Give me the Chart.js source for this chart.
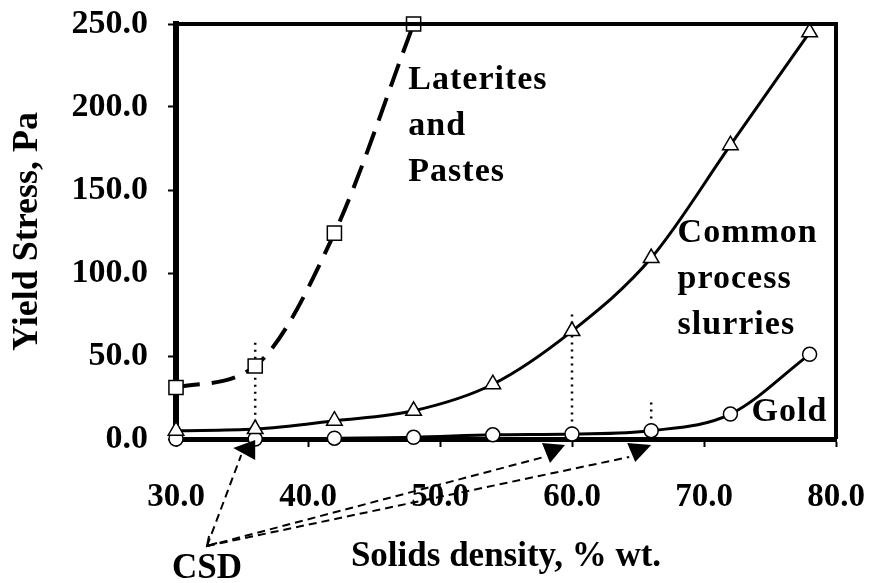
<!DOCTYPE html>
<html>
<head>
<meta charset="utf-8">
<script src="https://cdn.jsdelivr.net/npm/chart.js@4/dist/chart.umd.min.js"></script>
<style>
  html, body { margin: 0; padding: 0; background: #fff; }
  #wrap { width: 881px; height: 583px; }
</style>
</head>
<body>
<div id="wrap"><canvas id="chart" width="881" height="583"></canvas></div>
<script>
// Chart values
const solidsX = [30, 36, 42, 48, 54, 60, 66, 72, 78];
const lateritesX = [30, 36, 42, 48];
const lateritesY = [31, 44, 124, 250];
const commonY = [5, 6, 11, 17, 33, 65, 109, 177, 245];
const goldY = [0, 0, 0.5, 1, 2.5, 3, 5, 15, 51];

const xTickValues = [30, 40, 50, 60, 70, 80];
const xTickLabels = ['30.0', '40.0', '50.0', '60.0', '70.0', '80.0'];
const yTickValues = [0, 50, 100, 150, 200, 250];
const yTickLabels = ['0.0', '50.0', '100.0', '150.0', '200.0', '250.0'];

// CSD drop lines: x position and height they reach
const csdX = [36, 60, 66];
const csdTop = [58, 75, 22];

// Text labels inside the plot
const seriesNotes = [
  { lines: ['Laterites', 'and', 'Pastes'], x: 47.6, y: 216 },
  { lines: ['Common', 'process', 'slurries'], x: 68.0, y: 124 },
  { lines: ['Gold'], x: 73.6, y: 16 }
];

const FONT = '"Liberation Serif", "Times New Roman", serif';

function toPoints(xs, ys) {
  return xs.map((x, i) => ({ x: x, y: ys[i] }));
}

// Frame on top/right, dotted drops, arrows and notes
const extrasPlugin = {
  id: 'extras',
  beforeDatasetsDraw(chart) {
    const { ctx, scales: { x, y } } = chart;
    ctx.save();
    ctx.strokeStyle = '#000';
    ctx.lineWidth = 2.5;
    ctx.setLineDash([2, 5]);
    csdX.forEach((v, i) => {
      const px = x.getPixelForValue(v);
      ctx.beginPath();
      ctx.moveTo(px, y.getPixelForValue(csdTop[i]));
      ctx.lineTo(px, y.getPixelForValue(0));
      ctx.stroke();
    });
    ctx.restore();
  },
  afterDatasetsDraw(chart) {
    const { ctx, chartArea: a, scales: { x, y } } = chart;
    ctx.save();
    // top and right frame
    ctx.strokeStyle = '#000';
    ctx.lineWidth = 4;
    ctx.beginPath();
    ctx.moveTo(a.left, a.top);
    ctx.lineTo(a.right, a.top);
    ctx.lineTo(a.right, a.bottom);
    ctx.stroke();

    // notes
    ctx.fillStyle = '#000';
    ctx.font = 'bold 34px ' + FONT;
    ctx.letterSpacing = '1px';
    ctx.textAlign = 'left';
    ctx.textBaseline = 'middle';
    seriesNotes.forEach(n => {
      const px = x.getPixelForValue(n.x);
      const py = y.getPixelForValue(n.y);
      n.lines.forEach((t, i) => ctx.fillText(t, px, py + i * 46));
    });

    // CSD label and arrows
    const sx = x.getPixelForValue(32.35);
    const sy = a.bottom + 107;
    ctx.letterSpacing = '0px';
    ctx.font = 'bold 35px ' + FONT;
    ctx.textAlign = 'center';
    ctx.fillText('CSD', sx, a.bottom + 130);

    const zero = y.getPixelForValue(0);
    const heads = [
      { v: 36, end: [-14, 16], tri: [[-22, 9], [0, 1], [0, 21]] },
      { v: 60, end: [-28, 18], tri: [[-30, 4], [-7, 6], [-22, 24]] },
      { v: 66, end: [-22, 18], tri: [[-24, 4], [0, 6], [-16, 23]] }
    ];
    ctx.lineWidth = 2;
    ctx.setLineDash([8, 5]);
    heads.forEach(h => {
      const px = x.getPixelForValue(h.v);
      ctx.beginPath();
      ctx.moveTo(sx, sy);
      ctx.lineTo(px + h.end[0], zero + h.end[1]);
      ctx.stroke();
    });
    ctx.setLineDash([]);
    heads.forEach(h => {
      const px = x.getPixelForValue(h.v);
      ctx.beginPath();
      ctx.moveTo(px + h.tri[0][0], zero + h.tri[0][1]);
      ctx.lineTo(px + h.tri[1][0], zero + h.tri[1][1]);
      ctx.lineTo(px + h.tri[2][0], zero + h.tri[2][1]);
      ctx.closePath();
      ctx.fill();
    });
    // open head at the CSD end
    ctx.lineWidth = 2;
    ctx.beginPath();
    ctx.moveTo(sx + 2, sy - 10);
    ctx.lineTo(sx, sy);
    ctx.lineTo(sx + 10, sy - 3);
    ctx.stroke();
    ctx.restore();
  }
};

const ctx = document.getElementById('chart');
new Chart(ctx, {
  type: 'line',
  data: {
    datasets: [
      {
        label: 'Laterites and Pastes',
        data: toPoints(lateritesX, lateritesY),
        borderColor: '#000',
        borderWidth: 4,
        borderDash: [24, 12],
        pointStyle: 'rect',
        pointRadius: 10,
        pointBorderWidth: 1.5,
        pointBackgroundColor: '#fff',
        pointBorderColor: '#000',
        cubicInterpolationMode: 'monotone'
      },
      {
        label: 'Common process slurries',
        data: toPoints(solidsX, commonY),
        borderColor: '#000',
        borderWidth: 3,
        pointStyle: 'triangle',
        pointRadius: 9,
        pointBorderWidth: 1.5,
        pointBackgroundColor: '#fff',
        pointBorderColor: '#000',
        cubicInterpolationMode: 'monotone'
      },
      {
        label: 'Gold',
        data: toPoints(solidsX, goldY),
        borderColor: '#000',
        borderWidth: 3,
        pointStyle: 'circle',
        pointRadius: 7,
        pointBorderWidth: 1.5,
        pointBackgroundColor: '#fff',
        pointBorderColor: '#000',
        cubicInterpolationMode: 'monotone'
      }
    ]
  },
  options: {
    responsive: false,
    animation: false,
    clip: false,
    layout: { autoPadding: false, padding: { top: 24, right: 45, left: 0, bottom: 0 } },
    plugins: {
      legend: { display: false },
      tooltip: { enabled: false }
    },
    scales: {
      x: {
        type: 'linear',
        min: 30,
        max: 80,
        // fixed band height, and no label overhang pushing the plot in
        afterFit: s => { s.height = 144; s.paddingLeft = 0; s.paddingRight = 0; },
        afterBuildTicks: s => { s.ticks = xTickValues.map(v => ({ value: v })); },
        ticks: {
          color: '#000',
          padding: 31,
          maxRotation: 0,
          font: { family: FONT, size: 33, weight: 'bold' },
          callback: v => xTickLabels[xTickValues.indexOf(v)]
        },
        grid: { drawOnChartArea: false, tickLength: 8, tickColor: '#000', tickWidth: 2 },
        border: { display: true, color: '#000', width: 5 },
        title: {
          display: true,
          text: 'Solids density, % wt.',
          color: '#000',
          font: { family: FONT, size: 35, weight: 'bold' },
          padding: { top: 0, bottom: 5 }
        }
      },
      y: {
        min: 0,
        max: 250,
        afterFit: s => { s.width = 176; s.paddingTop = 0; s.paddingBottom = 0; },
        afterBuildTicks: s => { s.ticks = yTickValues.map(v => ({ value: v })); },
        ticks: {
          color: '#000',
          padding: 20,
          font: { family: FONT, size: 34, weight: 'bold' },
          callback: v => yTickLabels[yTickValues.indexOf(v)]
        },
        grid: { drawOnChartArea: false, tickLength: 8, tickColor: '#000', tickWidth: 2 },
        border: { display: true, color: '#000', width: 6 },
        title: {
          display: true,
          text: 'Yield Stress, Pa',
          color: '#000',
          font: { family: FONT, size: 36, weight: 'bold' },
          padding: { top: 6, bottom: 0 }
        }
      }
    }
  },
  plugins: [extrasPlugin]
});
</script>
</body>
</html>
